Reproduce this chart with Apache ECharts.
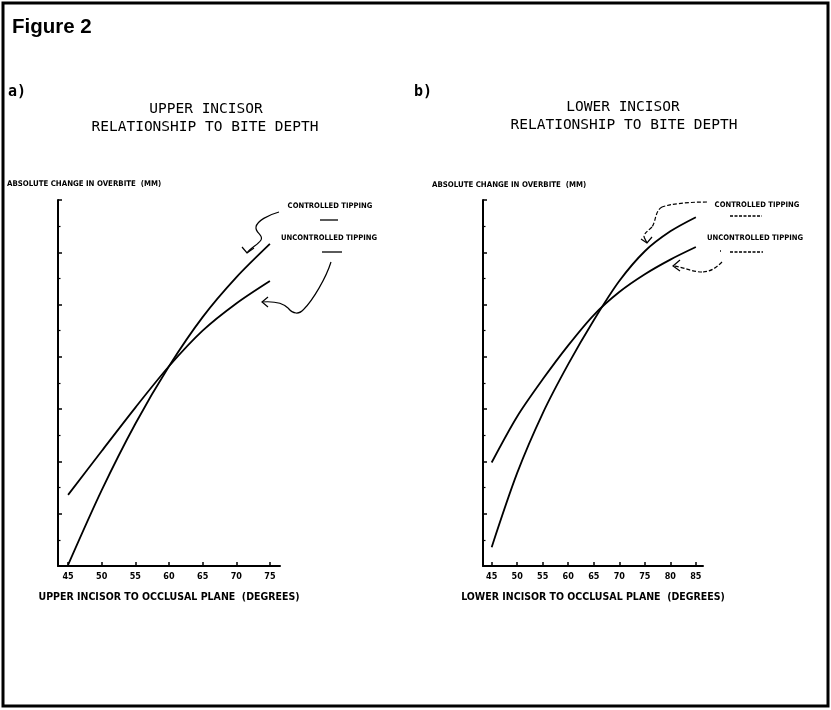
<!DOCTYPE html>
<html><head><meta charset="utf-8">
<script src="https://cdn.jsdelivr.net/npm/echarts@6/dist/echarts.min.js"></script>
<style>html,body{margin:0;padding:0;background:#fff}#c{width:831px;height:710px}</style>
</head><body><div id="c"></div>
<script>
// ---- data (y in arbitrary mm units, axis unlabeled) ----
const degreesUpper = [45, 50, 55, 60, 65, 70, 75];
const upperControlled = [0.02, 1.45, 2.72, 3.82, 4.76, 5.52, 6.16];
const upperUncontrolled = [1.36, 2.20, 3.03, 3.82, 4.50, 5.02, 5.45];
const degreesLower = [45, 50, 55, 60, 65, 70, 75, 80, 85];
const lowerControlled = [0.36, 1.78, 2.92, 3.86, 4.70, 5.45, 6.02, 6.40, 6.67];
const lowerUncontrolled = [1.98, 2.86, 3.57, 4.22, 4.80, 5.24, 5.58, 5.86, 6.10];
const upperTicks = [45, 50, 55, 60, 65, 70, 75];
const lowerTicks = [45, 50, 55, 60, 65, 70, 75, 80, 85];

const pairs = (xs, ys) => xs.map((x, i) => [x, ys[i]]);
const COND = '"DejaVu Sans Condensed","Liberation Sans Narrow","DejaVu Sans",sans-serif';
const MONO = '"DejaVu Sans Mono",monospace';

function xAxisCfg(idx, min, max, ticks, name) {
  return {
    gridIndex: idx, type: 'value', min: min, max: max,
    axisLine: { show: true, onZero: false, lineStyle: { color: '#000', width: 2 } },
    axisTick: { show: true, inside: true, length: 4, customValues: ticks, lineStyle: { color: '#000', width: 1.5 } },
    axisLabel: { customValues: ticks, color: '#000', fontFamily: COND, fontWeight: 'bold', fontSize: 9, margin: 6 },
    splitLine: { show: false },
    name: name, nameLocation: 'middle', nameGap: 26,
    nameTextStyle: { color: '#000', fontFamily: COND, fontWeight: 'bold', fontSize: 10.5 }
  };
}
function yAxisCfg(idx) {
  return {
    gridIndex: idx, type: 'value', min: 0, max: 7, interval: 1,
    axisLine: { show: true, lineStyle: { color: '#000', width: 2 } },
    axisTick: { show: true, inside: true, length: 4, lineStyle: { color: '#000', width: 1.5 } },
    minorTick: { show: true, splitNumber: 2, length: 2.5, lineStyle: { color: '#000', width: 1.2 } },
    axisLabel: { show: false },
    splitLine: { show: false }
  };
}
function curve(name, xi, data) {
  return {
    type: 'line', name: name, xAxisIndex: xi, yAxisIndex: xi, data: data,
    smooth: 0.3, showSymbol: false, symbol: 'none',
    lineStyle: { color: '#000', width: 1.8 }, silent: true, animation: false
  };
}
function txt(x, y, s, font, size, weight, align) {
  return { type: 'text', x: x, y: y, style: { text: s, fill: '#000', fontFamily: font, fontSize: size,
    fontWeight: weight || 'normal', textAlign: align || 'left', textVerticalAlign: 'middle' } };
}
function seg(x1, y1, x2, y2, dash) {
  return { type: 'line', shape: { x1: x1, y1: y1, x2: x2, y2: y2 },
    style: { stroke: '#000', lineWidth: 1.3, lineDash: dash || null } };
}
// cubic bezier piece: from (x1,y1) to (x2,y2) with control points
function bz(x1, y1, c1x, c1y, c2x, c2y, x2, y2, dash) {
  return { type: 'bezierCurve',
    shape: { x1: x1, y1: y1, cpx1: c1x, cpy1: c1y, cpx2: c2x, cpy2: c2y, x2: x2, y2: y2 },
    style: { stroke: '#000', fill: null, lineWidth: 1.2, lineDash: dash || null } };
}
function head(pts) {
  return { type: 'polyline', shape: { points: pts }, style: { stroke: '#000', fill: null, lineWidth: 1.2 } };
}

const D = [4, 2];
const chart = echarts.init(document.getElementById('c'), null, { renderer: 'canvas' });
chart.setOption({
  backgroundColor: '#fff',
  animation: false,
  grid: [
    { left: 58, right: 551, top: 200, bottom: 144 },
    { left: 483, right: 128, top: 200, bottom: 144 }
  ],
  xAxis: [
    xAxisCfg(0, 43.5, 76.5, upperTicks, 'UPPER INCISOR TO OCCLUSAL PLANE  (DEGREES)'),
    xAxisCfg(1, 43.3, 86.4, lowerTicks, 'LOWER INCISOR TO OCCLUSAL PLANE  (DEGREES)')
  ],
  yAxis: [yAxisCfg(0), yAxisCfg(1)],
  series: [
    curve('Controlled tipping (upper)', 0, pairs(degreesUpper, upperControlled)),
    curve('Uncontrolled tipping (upper)', 0, pairs(degreesUpper, upperUncontrolled)),
    curve('Controlled tipping (lower)', 1, pairs(degreesLower, lowerControlled)),
    curve('Uncontrolled tipping (lower)', 1, pairs(degreesLower, lowerUncontrolled))
  ],
  graphic: [
    { type: 'rect', shape: { x: 3, y: 3, width: 825, height: 703 }, style: { stroke: '#000', fill: null, lineWidth: 3 } },
    txt(12, 27, 'Figure 2', '"Liberation Sans",Arial,sans-serif', 20.5, 'bold'),
    txt(8, 92, 'a)', MONO, 15, 'bold'),
    txt(414, 92, 'b)', MONO, 15, 'bold'),
    txt(206, 109, 'UPPER INCISOR', MONO, 14.5, 'normal', 'center'),
    txt(205, 127, 'RELATIONSHIP TO BITE DEPTH', MONO, 14.5, 'normal', 'center'),
    txt(623, 107, 'LOWER INCISOR', MONO, 14.5, 'normal', 'center'),
    txt(624, 125, 'RELATIONSHIP TO BITE DEPTH', MONO, 14.5, 'normal', 'center'),
    txt(7, 184, 'ABSOLUTE CHANGE IN OVERBITE  (MM)', COND, 7.8, 'bold'),
    txt(432, 185, 'ABSOLUTE CHANGE IN OVERBITE  (MM)', COND, 7.8, 'bold'),
    // legend (left)
    txt(330, 206, 'CONTROLLED TIPPING', COND, 7.6, 'bold', 'center'),
    seg(320, 220, 338, 220),
    txt(329, 238, 'UNCONTROLLED TIPPING', COND, 7.6, 'bold', 'center'),
    seg(322, 252, 342, 252),
    // legend (right)
    txt(757, 205, 'CONTROLLED TIPPING', COND, 7.6, 'bold', 'center'),
    seg(730, 216, 762, 216, [3, 1.5]),
    txt(755, 238, 'UNCONTROLLED TIPPING', COND, 7.6, 'bold', 'center'),
    seg(730, 252, 763, 252, [3, 1.5]),
    seg(720, 251, 721, 251),
    // hand-drawn pointers (left, solid)
    bz(279, 212, 268, 215, 257, 221, 256, 227),
    bz(256, 227, 255, 233, 264, 235, 261, 240),
    bz(261, 240, 258, 245, 251, 247, 247, 253),
    head([[242, 247], [247, 253], [254, 248]]),
    bz(331, 262, 326, 278, 313, 300, 304, 309),
    bz(304, 309, 299, 315, 293, 314, 288, 308),
    bz(288, 308, 283, 303, 275, 301, 262, 302),
    head([[268, 297], [262, 302], [268, 307]]),
    // hand-drawn pointers (right, dashed)
    bz(707, 202, 688, 202, 670, 204, 662, 207, D),
    bz(662, 207, 655, 211, 656, 221, 652, 227, D),
    bz(652, 227, 648, 231, 644, 233, 644, 237, D),
    seg(644, 237, 647, 243),
    head([[641, 239], [647, 243], [652, 237]]),
    bz(722, 262, 716, 268, 710, 272, 702, 272, D),
    bz(702, 272, 692, 272, 684, 267, 673, 266, D),
    head([[680, 260], [673, 266], [680, 271]])
  ]
});
</script></body></html>
